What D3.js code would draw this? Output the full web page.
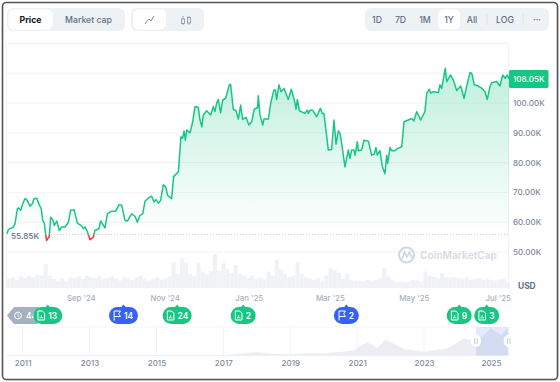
<!DOCTYPE html>
<html>
<head>
<meta charset="utf-8">
<script src="https://cdn.jsdelivr.net/npm/d3@7"></script>
<style>
html,body{margin:0;padding:0;background:#fff;}
svg{display:block;font-family:Inter,"Noto Sans",sans-serif;}
</style>
</head>
<body>
<script>
// days since the start of the 1Y window, price in thousands of USD
var priceDays = [0.4,1.3,3.3,4.5,6.2,7.9,8.8,10.3,11.8,13.4,14.7,17.1,18.8,20,22,23.9,25.3,26.3,27.5,28.7,29.2,31.1,32.1,33.6,34.8,36.5,38.4,40.1,42.5,45,46.6,49.1,51.5,54.6,55.8,57.1,58.7,60.7,63.1,64.3,67.2,68.4,71.6,73.3,76.4,79.3,81.8,83.7,86.1,87.8,91,93.4,95.1,97,99,100.7,104.3,105.5,107.2,108.7,110.4,112,114,115.7,117.1,120,121.5,124.9,126.8,128,129,130,130.9,133.4,135.3,137,139.4,140.6,142,143,145.5,147.4,148.4,150.3,151.5,152.7,153.9,155.6,157.1,159.3,161.9,162.9,164.8,166.8,168.5,170.2,171.6,174,176.2,178.2,180.1,182.5,183,184.2,186.2,187.1,190.3,192.2,194.4,195.4,196.3,198,199.5,201.7,204.8,207,209.7,210.4,211.4,212.8,216.9,218.6,219.4,220.6,222.5,225.4,228.1,229.5,230.7,233.9,236.3,238,239.5,241.2,242.4,243.6,246,248.4,249.6,250.8,252.5,253.3,255,255.7,258.1,259.8,263,265.4,267.3,268.5,269.5,271.4,273.1,275.1,276.3,277,278.7,279.9,282.3,284,287.2,288.9,292,294.5,296.1,298.1,301,304.1,305.4,307.3,308.3,310.2,313.8,315,316.3,318.9,319.9,322.8,324.7,327.2,330.1,332.5,334.4,336.8,338.1,340,342.9,345.3,347.8,349.4,351.4,352.6,356.2,358.6,360.6,362.3,364,365.2];
var priceValues = [56.1,57.5,58,58.1,59.5,64.5,64.8,64,66.2,67.9,67.6,65.4,66.2,67.9,68,65.7,64.5,60.6,59.7,55,53.9,55.2,61.7,60.8,58.9,60.4,57.2,58.4,58.4,60,64,64.2,59.7,58.8,57.8,58.4,56.9,54.1,55,57.2,57.8,60.4,58.1,62.8,63.7,63.7,65.9,65.7,60.6,60.4,62.8,62,60,62.3,62.8,67.1,68.5,68.7,66.8,67.6,66.4,67.3,72.6,71.8,69,67.9,75.3,76.9,88.7,88.1,90.6,87.5,90.9,90,93.7,98.8,98.5,94.3,92,96,97.4,96.5,96,98.8,97.1,99.9,101.2,96.7,101,101.6,106.1,106.3,97.9,97.4,94.6,99.3,94.5,95.2,92.6,93.7,97.9,98.5,102.4,96,92.6,94.6,94.6,100.4,104.4,104.4,101.2,106.1,103.8,104.9,101.2,104.6,99.9,97.9,101.2,97.4,96.5,97.6,96.5,97.6,97.6,95.4,98.2,96.5,96.5,84.2,84.4,94.3,86.2,90.6,89.8,86.4,78.6,84.2,81.4,84.2,84.2,82.5,87,84,84.2,87.5,87.2,82.5,82.8,85.1,82.5,84,78.8,76.3,82.5,79.7,85.1,84,84,84.7,85.3,93.7,94.3,94.8,94,97.1,94.3,97.1,103.3,104.6,103.3,103.8,103.5,106.1,104.9,111.7,107.2,109.4,107.7,104.2,105.7,101.6,105.5,110.2,110,106.1,105.7,105,103.8,101.2,105.5,106.8,107.2,105.7,109.4,108.3,109.4,108.05];
// one value for every 3 days, billions of USD
var volumes = [22,26,20,28,24,30,26,32,30,58,30,22,18,24,16,26,24,28,22,30,26,24,30,22,24,28,22,18,26,24,20,26,30,22,18,22,26,20,24,28,62,34,72,60,34,28,60,40,34,42,82,40,60,46,36,56,34,30,24,30,22,26,20,40,30,68,44,34,26,30,62,34,26,22,20,24,18,30,48,44,36,22,34,20,18,18,16,20,18,20,24,48,28,18,14,16,14,16,20,18,16,40,30,26,24,36,26,24,26,24,22,26,20,22,24,20,22,20,18,20,22,14];

var yTicks = [50,60,70,80,90,100,110];
var monthTicks = [new Date(2024,8,1),new Date(2024,10,1),new Date(2025,0,1),new Date(2025,2,1),new Date(2025,4,1),new Date(2025,6,1)];
var monthLabels = ["Sep '24","Nov '24","Jan '25","Mar '25","May '25","Jul '25"];
var lastPrice = 108.05;
var refPrice = 55.85;

// navigator: whole history
var navYears = [2011,2013,2014,2015,2017,2017.96,2018.5,2019,2019.5,2020,2020.9,2021,2021.3,2021.6,2021.85,2022.4,2023,2023.7,2024.2,2024.55,2025,2025.3,2025.5];
var navPrices = [0.01,0.1,0.8,0.3,1,13,6.5,3.7,10,7.5,19,30,52,30,62,25,15,27,68,54,105,80,108];
var navTicks = [2011,2013,2015,2017,2019,2021,2023,2025];
var navRange = [2024.55,2025.53];

// event pins
var pinLabels = ["13","14","24","2","2","9","3"];
var pinKinds = ["doc","flag","doc","doc","flag","doc","doc"];
var pinDates = [new Date(2024,7,8),new Date(2024,9,2),new Date(2024,10,10),new Date(2024,11,28),new Date(2025,2,13),new Date(2025,5,3),new Date(2025,5,23)];

var GREEN = "#16c784", RED = "#ea3943", BLUE = "#3861fb", GREY = "#808a9d", LINE = "#f1f3f6";
var t0 = new Date(2024,6,9).getTime();
var DAY = 86400000;
function dayDate(d){ return new Date(t0 + d*DAY); }

var svg = d3.select("body").append("svg").attr("width",560).attr("height",382);
svg.append("rect").attr("width",560).attr("height",382).attr("fill","#fff");

var xScale = d3.scaleTime().domain([dayDate(0),dayDate(365.2)]).range([6.5,509]);
var yScale = d3.scaleLinear().domain([50,100]).range([252,103]);

var data = priceDays.map(function(d,i){ return {date:dayDate(d),value:priceValues[i]}; });

// frame round the screenshot
svg.append("rect").attr("x",3.5).attr("y",3.5).attr("width",555).attr("height",377).attr("rx",4).attr("fill","#bbb").attr("opacity",0.6);
svg.append("rect").attr("x",2.5).attr("y",2.5).attr("width",555).attr("height",377).attr("rx",4).attr("fill","#fff").attr("stroke","#555").attr("stroke-width",1.6);

// top buttons
function group(x,w){
	svg.append("rect").attr("x",x).attr("y",8).attr("width",w).attr("height",23).attr("rx",6).attr("fill","#eff2f5");
}
function active(x,w){
	svg.append("rect").attr("x",x).attr("y",9.5).attr("width",w).attr("height",20).attr("rx",5).attr("fill","#fff");
}
function btn(x,label,col,weight){
	svg.append("text").attr("x",x).attr("y",22.5).attr("text-anchor","middle").attr("font-size",8.7).attr("font-weight",weight||500).attr("fill",col||"#616e85").text(label);
}
group(7,118); active(8.5,44); btn(30.5,"Price","#0d1421",700); btn(88.5,"Market cap");
group(131,73); active(133,33);
svg.append("path").attr("d","M145 24L149 19L151 21L154 16").attr("fill","none").attr("stroke","#808a9d").attr("stroke-width",1);
svg.append("path").attr("d","M183 16V25M189 16V25").attr("stroke","#808a9d").attr("stroke-width",0.7);
svg.append("rect").attr("x",181.5).attr("y",19).attr("width",3).attr("height",4.5).attr("fill","#eff2f5").attr("stroke","#808a9d").attr("stroke-width",0.8);
svg.append("rect").attr("x",187.5).attr("y",17.5).attr("width",3).attr("height",5.5).attr("fill","#eff2f5").attr("stroke","#808a9d").attr("stroke-width",0.8);
group(365,184); active(438,22);
btn(377,"1D"); btn(400.5,"7D"); btn(425,"1M"); btn(449,"1Y"); btn(472,"All"); btn(505,"LOG"); btn(537,"···");
svg.selectAll(".sep").data([487,523]).enter().append("line").attr("x1",function(d){return d;}).attr("x2",function(d){return d;}).attr("y1",14).attr("y2",25).attr("stroke","#dfe3ea");

// plot frame and grid
svg.append("g").selectAll("line").data(yTicks).enter().append("line")
	.attr("x1",6.5).attr("x2",509).attr("y1",function(d){return yScale(d);}).attr("y2",function(d){return yScale(d);})
	.attr("stroke",LINE).attr("stroke-width",1);
svg.append("path").attr("d","M6.5 288V43.5H508.5V288").attr("fill","none").attr("stroke","#eff2f5");

// watermark
var wm = svg.append("g").attr("fill","none").attr("stroke","#cfd6e4").attr("stroke-width",2);
wm.append("circle").attr("cx",406.5).attr("cy",255).attr("r",7.5);
wm.append("path").attr("d","M402 259L404.5 252L407 257L409.5 252L412 258").attr("stroke-width",1.6);
svg.append("text").attr("x",420).attr("y",259).attr("font-size",10.2).attr("font-weight",600).attr("fill","#d5dbe6").text("CoinMarketCap");

// volume
var volScale = d3.scaleLinear().domain([0,82]).range([288,254]);
svg.append("g").selectAll("rect").data(volumes).enter().append("rect")
	.attr("x",function(d,i){return xScale(dayDate(i*3));})
	.attr("width",4.13)
	.attr("y",function(d){return volScale(d);})
	.attr("height",function(d){return 288-volScale(d);})
	.attr("fill","#f0f2f5");

// gradient and clips
var defs = svg.append("defs");
var grad = defs.append("linearGradient").attr("id","fillg").attr("gradientUnits","userSpaceOnUse")
	.attr("x1",0).attr("x2",0).attr("y1",yScale(111)).attr("y2",yScale(refPrice));
grad.append("stop").attr("offset",0).attr("stop-color",GREEN).attr("stop-opacity",0.27);
grad.append("stop").attr("offset",1).attr("stop-color",GREEN).attr("stop-opacity",0);
defs.append("clipPath").attr("id","above").append("rect").attr("x",0).attr("y",0).attr("width",560).attr("height",yScale(refPrice));
defs.append("clipPath").attr("id","below").append("rect").attr("x",0).attr("y",yScale(refPrice)).attr("width",560).attr("height",100);

var area = d3.area().x(function(d){return xScale(d.date);}).y0(yScale(refPrice)).y1(function(d){return yScale(d.value);});
var line = d3.line().x(function(d){return xScale(d.date);}).y(function(d){return yScale(d.value);});

svg.append("path").datum(data).attr("d",area).attr("fill","url(#fillg)").attr("clip-path","url(#above)");

// reference line and label
svg.append("line").attr("x1",45).attr("x2",508).attr("y1",yScale(refPrice)).attr("y2",yScale(refPrice))
	.attr("stroke","#c3cad6").attr("stroke-width",1).attr("stroke-dasharray","1 2");
svg.append("path").datum(data).attr("d",line).attr("fill","none").attr("stroke",GREEN).attr("stroke-width",1.5).attr("stroke-linejoin","round").attr("clip-path","url(#above)");
svg.append("path").datum(data).attr("d",line).attr("fill","none").attr("stroke",RED).attr("stroke-width",1.5).attr("stroke-linejoin","round").attr("clip-path","url(#below)");
svg.append("rect").attr("x",10).attr("y",yScale(refPrice)-4).attr("width",29).attr("height",10).attr("fill","#fff");
svg.append("text").attr("x",11).attr("y",yScale(refPrice)+4.2).attr("font-size",8.2).attr("font-weight",500).attr("fill","#616e85").text(refPrice.toFixed(2)+"K");

// price axis
var yAxis = d3.axisRight(yScale).tickValues(yTicks.slice(0,6)).tickSize(0).tickPadding(4).tickFormat(function(d){return d.toFixed(2)+"K";});
var gy = svg.append("g").attr("transform","translate(509,0)").call(yAxis);
gy.select(".domain").remove();
gy.selectAll("text").attr("font-family","Inter,'Noto Sans',sans-serif").attr("font-size",8.1).attr("font-weight",500).attr("fill",GREY);

svg.append("rect").attr("x",509).attr("y",yScale(lastPrice)-9).attr("width",39.5).attr("height",18).attr("rx",1.5).attr("fill",GREEN);
svg.append("text").attr("x",513).attr("y",yScale(lastPrice)+3.2).attr("font-size",8.1).attr("font-weight",500).attr("fill","#fff").text(lastPrice.toFixed(2)+"K");
svg.append("text").attr("x",518).attr("y",289).attr("font-size",8.4).attr("font-weight",700).attr("fill","#616e85").text("USD");

// month axis
var xAxis = d3.axisBottom(xScale).tickValues(monthTicks).tickSize(0).tickPadding(0).tickFormat(function(d,i){return monthLabels[i];});
var gx = svg.append("g").attr("transform","translate(0,295)").call(xAxis);
gx.select(".domain").remove();
gx.selectAll("text").attr("font-family","Inter,'Noto Sans',sans-serif").attr("font-size",7.8).attr("font-weight",500).attr("fill","#a6b0c3");

// grey history pin, sits under the first event
var hp = svg.append("g");
hp.append("path").attr("d","M7 315.5L14 307H38V324H14Z").attr("fill","#a6b0c3");
hp.append("circle").attr("cx",18).attr("cy",315.5).attr("r",3.4).attr("fill","none").attr("stroke","#fff").attr("stroke-width",1);
hp.append("path").attr("d","M18 313.5V315.7L19.5 316.6").attr("fill","none").attr("stroke","#fff").attr("stroke-width",0.8);
hp.append("text").attr("x",26).attr("y",318.8).attr("font-size",8.4).attr("font-weight",600).attr("fill","#fff").text("44");

// event pins
pinLabels.forEach(function(label,i){
	var cx = xScale(pinDates[i]);
	var col = pinKinds[i]=="flag" ? BLUE : GREEN;
	var w = label.length>1 ? 29 : 25;
	var g = svg.append("g").attr("transform","translate("+cx+",0)");
	g.append("rect").attr("x",-w/2).attr("y",307).attr("width",w).attr("height",17).attr("rx",8.5).attr("fill",col);
	g.append("path").attr("d","M-3 308L0 304.5L3 308Z").attr("fill",col);
	var ix = -w/2+8;
	if(pinKinds[i]=="doc"){
		g.append("path").attr("d","M"+(ix-3.3)+" 311H"+(ix+1)+"L"+(ix+3.3)+" 313.3V320H"+(ix-3.3)+"Z").attr("fill","none").attr("stroke","#fff").attr("stroke-width",1);
		g.append("path").attr("d","M"+(ix-1.2)+" 318.5V316.5M"+ix+" 318.5V315M"+(ix+1.2)+" 318.5V317").attr("stroke","#fff").attr("stroke-width",0.7);
	}else{
		g.append("path").attr("d","M"+(ix-2.8)+" 320.5V311H"+(ix+3.5)+"L"+(ix+1.8)+" 313.8L"+(ix+3.5)+" 316.5H"+(ix-2.8)).attr("fill","none").attr("stroke","#fff").attr("stroke-width",1);
	}
	g.append("text").attr("x",ix+7).attr("y",318.8).attr("font-size",8.4).attr("font-weight",600).attr("fill","#fff").text(label);
});

// navigator
var navX = d3.scaleLinear().domain([2011,2025]).range([22.6,491]);
var navY = d3.scaleLinear().domain([0,111]).range([355.5,327]);
var navData = navYears.map(function(d,i){return {year:d,value:navPrices[i]};});

svg.append("line").attr("x1",6.5).attr("x2",508.5).attr("y1",327).attr("y2",327).attr("stroke","#f5f6f8");
svg.append("line").attr("x1",6.5).attr("x2",508.5).attr("y1",355.5).attr("y2",355.5).attr("stroke","#eff2f5");
svg.append("g").selectAll("line").data(navTicks).enter().append("line")
	.attr("x1",function(d){return navX(d);}).attr("x2",function(d){return navX(d);}).attr("y1",327).attr("y2",355.5).attr("stroke","#f1f3f6");

var navArea = d3.area().x(function(d){return navX(d.year);}).y0(355.5).y1(function(d){return navY(d.value);});
svg.append("path").datum(navData).attr("d",navArea).attr("fill","#eceef3");
svg.append("rect").attr("x",navX(navRange[0])).attr("y",327).attr("width",navX(navRange[1])-navX(navRange[0])).attr("height",28.5).attr("fill",BLUE).attr("opacity",0.13);
navRange.forEach(function(d){
	svg.append("rect").attr("x",navX(d)-5).attr("y",335).attr("width",10).attr("height",12).attr("rx",5).attr("fill","#fff");
	svg.append("path").attr("d","M"+(navX(d)-1.2)+" 338V344M"+(navX(d)+1.2)+" 338V344").attr("stroke","#b8c0cf").attr("stroke-width",0.8);
});

var navAxis = d3.axisBottom(navX).tickValues(navTicks).tickSize(0).tickPadding(0).tickFormat(d3.format("d"));
var gn = svg.append("g").attr("transform","translate(0,360)").call(navAxis);
gn.select(".domain").remove();
gn.selectAll("text").attr("font-family","Inter,'Noto Sans',sans-serif").attr("font-size",8).attr("font-weight",500).attr("fill",GREY);
</script>
</body>
</html>
